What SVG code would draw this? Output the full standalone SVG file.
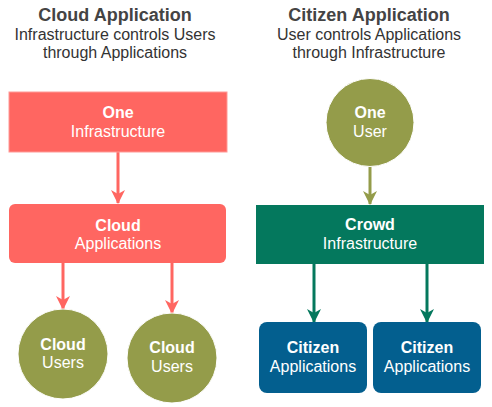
<svg xmlns="http://www.w3.org/2000/svg" width="492" height="407" viewBox="0 0 492 407">
<defs>
<style>
.title{font-family:"Liberation Sans",Arial,sans-serif;font-size:18px;font-weight:bold;fill:#444444;text-anchor:middle}
.sub{font-family:"Liberation Sans",Arial,sans-serif;font-size:16px;fill:#333333;text-anchor:middle}
.lb{font-family:"Liberation Sans",Arial,sans-serif;font-size:16px;fill:#ffffff;text-anchor:middle}
.b{font-weight:bold}
.red{fill:#FF6661}
.olive{fill:#949C4A;stroke:#ffffff;stroke-width:1}
.green{fill:#04785D}
.blue{fill:#035F8F}
</style>
<marker id="arR" viewBox="0 0 14 14" refX="13" refY="7" markerWidth="14" markerHeight="14" markerUnits="userSpaceOnUse" orient="auto">
<path d="M0,0 L14,7 L0,14 L4,7 Z" fill="#FF6661"/>
</marker>
<marker id="arO" viewBox="0 0 14 14" refX="13" refY="7" markerWidth="14" markerHeight="14" markerUnits="userSpaceOnUse" orient="auto">
<path d="M0,0 L14,7 L0,14 L4,7 Z" fill="#949C4A"/>
</marker>
<marker id="arG" viewBox="0 0 14 14" refX="13" refY="7" markerWidth="14" markerHeight="14" markerUnits="userSpaceOnUse" orient="auto">
<path d="M0,0 L14,7 L0,14 L4,7 Z" fill="#04785D"/>
</marker>
</defs>
<rect width="492" height="407" fill="#ffffff"/>
<g id="titles">
<text class="title" x="115" y="21">Cloud Application</text>
<text class="sub" x="115" y="40">Infrastructure controls Users</text>
<text class="sub" x="115" y="58">through Applications</text>
<text class="title" x="369" y="21">Citizen Application</text>
<text class="sub" x="369" y="40">User controls Applications</text>
<text class="sub" x="369" y="58">through Infrastructure</text>
</g>
<g id="connectors" fill="none" stroke-width="3">
<line x1="118" y1="152" x2="118" y2="203" stroke="#FF6661" marker-end="url(#arR)"/>
<line x1="63" y1="263" x2="63" y2="309" stroke="#FF6661" marker-end="url(#arR)"/>
<line x1="172" y1="263" x2="172" y2="313" stroke="#FF6661" marker-end="url(#arR)"/>
<line x1="370" y1="166" x2="370" y2="204" stroke="#949C4A" marker-end="url(#arO)"/>
<line x1="314" y1="264" x2="314" y2="322" stroke="#04785D" marker-end="url(#arG)"/>
<line x1="427" y1="264" x2="427" y2="322" stroke="#04785D" marker-end="url(#arG)"/>
</g>
<g id="one-infrastructure">
<rect class="red" x="9" y="92" width="218" height="60" stroke="#FF9A97" stroke-width="1"/>
<text class="lb b" x="118" y="118">One</text>
<text class="lb" x="118" y="137">Infrastructure</text>
</g>
<g id="cloud-applications">
<rect class="red" x="9" y="204" width="217" height="59" rx="6"/>
<text class="lb b" x="118" y="231">Cloud</text>
<text class="lb" x="118" y="249">Applications</text>
</g>
<g id="cloud-users-1">
<circle class="olive" cx="63" cy="354" r="45"/>
<text class="lb b" x="63" y="350">Cloud</text>
<text class="lb" x="63" y="368">Users</text>
</g>
<g id="cloud-users-2">
<circle class="olive" cx="172" cy="358" r="45"/>
<text class="lb b" x="172" y="353">Cloud</text>
<text class="lb" x="172" y="372">Users</text>
</g>
<g id="one-user">
<circle class="olive" cx="370" cy="122.5" r="44"/>
<text class="lb b" x="370" y="118">One</text>
<text class="lb" x="370" y="137">User</text>
</g>
<g id="crowd-infrastructure">
<rect class="green" x="256" y="205" width="228" height="59"/>
<text class="lb b" x="370" y="230">Crowd</text>
<text class="lb" x="370" y="249">Infrastructure</text>
</g>
<g id="citizen-applications-1">
<rect class="blue" x="259" y="322" width="108" height="71" rx="8"/>
<text class="lb b" x="313" y="353">Citizen</text>
<text class="lb" x="313" y="372">Applications</text>
</g>
<g id="citizen-applications-2">
<rect class="blue" x="373" y="322" width="108" height="71" rx="8"/>
<text class="lb b" x="427" y="353">Citizen</text>
<text class="lb" x="427" y="372">Applications</text>
</g>
</svg>
